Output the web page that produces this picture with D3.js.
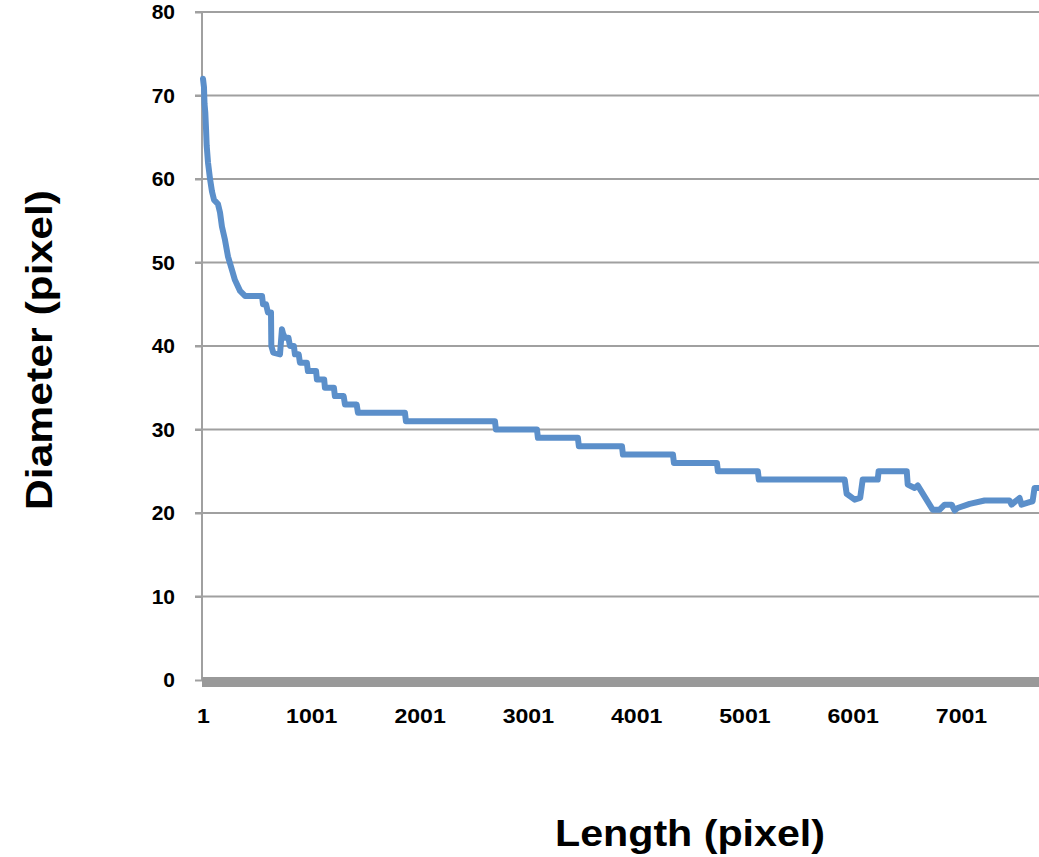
<!DOCTYPE html>
<html>
<head>
<meta charset="utf-8">
<script src="https://cdn.jsdelivr.net/npm/d3@7"></script>
<style>
  html, body { margin: 0; padding: 0; background: #fff; }
  svg { display: block; }
  text { font-family: "Liberation Sans", Arial, sans-serif; font-weight: bold; fill: #000; }
</style>
</head>
<body>
<svg id="chart" width="1039" height="857"></svg>
<script>
// Data
const lengthIdx = [1,10,15,22,29,35,47,66,84,103,139,158,176,204,232,269,296,343,389,546,555,583,601,629,632,650,712,730,740,758,790,804,840,850,885,896,960,970,1045,1053,1120,1127,1210,1219,1300,1312,1420,1432,1866,1875,2697,2706,3085,3094,3463,3472,3870,3879,4341,4350,4747,4756,5125,5134,5927,5945,6019,6070,6093,6232,6240,6500,6509,6573,6601,6739,6804,6850,6915,6942,6970,7081,7219,7449,7468,7495,7542,7560,7634,7662,7680,7800];
const diameter  = [72,71,69,68,66,64,62,60,58.5,57.5,57,56,54.3,52.7,50.7,49.1,47.9,46.6,46,46,45,45,44,44,40,39.2,39,42,41.5,41,41,40,40,39,39,38,38,37,37,36,36,35,35,34,34,33,33,32,32,31,31,30,30,29,29,28,28,27,27,26,26,25,25,24,24,22.3,21.6,21.8,24,24,25,25,23.4,23,23.3,20.4,20.4,21,21,20.3,20.6,21.1,21.5,21.5,21,21.3,21.8,21,21.3,21.4,23,23];
const yTicks = [0,10,20,30,40,50,60,70,80];
const xTickLabels = [1,1001,2001,3001,4001,5001,6001,7001];
const xTitle = "Length (pixel)";
const yTitle = "Diameter (pixel)";

const svg = d3.select("#chart");
const W = 1039, H = 857;
const x = d3.scaleLinear().domain([1, 7001]).range([203, 961]);
const y = d3.scaleLinear().domain([0, 80]).range([680, 12]);

// gridlines
svg.append("g")
  .selectAll("line")
  .data(yTicks.filter(d => d > 0))
  .join("line")
  .attr("x1", 195).attr("x2", W)
  .attr("y1", d => y(d)).attr("y2", d => y(d))
  .attr("stroke", "#a0a0a0").attr("stroke-width", 2);

// y axis
const yAxis = svg.append("g")
  .attr("transform", "translate(202,0)")
  .call(d3.axisLeft(y).tickValues(yTicks).tickSize(7).tickPadding(20));
yAxis.select(".domain").attr("stroke", "#a0a0a0").attr("stroke-width", 2)
  .attr("d", `M0,${y(80)}V${y(0)}`);
yAxis.selectAll(".tick line").attr("stroke", "#a0a0a0").attr("stroke-width", 2);
yAxis.selectAll(".tick text").style("font-size", "21px").style("font-weight", "bold")
  .style("font-family", "'Liberation Sans', Arial, sans-serif").attr("fill", "#000");

// x axis (thick band)
svg.append("rect").attr("x", 202).attr("y", 677).attr("width", W - 202).attr("height", 10)
  .attr("fill", "#999999");

const xAxis = svg.append("g")
  .attr("transform", "translate(0,702)")
  .call(d3.axisBottom(x).tickValues(xTickLabels).tickSize(0).tickPadding(6).tickFormat(d3.format("d")));
xAxis.select(".domain").remove();
xAxis.selectAll(".tick text").style("font-size", "21px").style("font-weight", "bold")
  .style("font-family", "'Liberation Sans', Arial, sans-serif").attr("fill", "#000")
  .attr("transform", "scale(1.1,1)");

// series line
const pts = lengthIdx.map((d, i) => [d, diameter[i]]);
svg.append("path")
  .datum(pts)
  .attr("fill", "none")
  .attr("stroke", "#5b8fca")
  .attr("stroke-width", 6)
  .attr("stroke-linejoin", "round")
  .attr("stroke-linecap", "round")
  .attr("d", d3.line().x(d => x(d[0])).y(d => y(d[1])));

// titles
svg.append("text").attr("x", 690).attr("y", 846).attr("text-anchor", "middle")
  .attr("textLength", 270).attr("lengthAdjust", "spacingAndGlyphs")
  .style("font-size", "36px").text(xTitle);
svg.append("text").attr("transform", "translate(52,350) rotate(-90)").attr("text-anchor", "middle")
  .attr("textLength", 320).attr("lengthAdjust", "spacingAndGlyphs")
  .style("font-size", "36px").text(yTitle);
</script>
</body>
</html>
